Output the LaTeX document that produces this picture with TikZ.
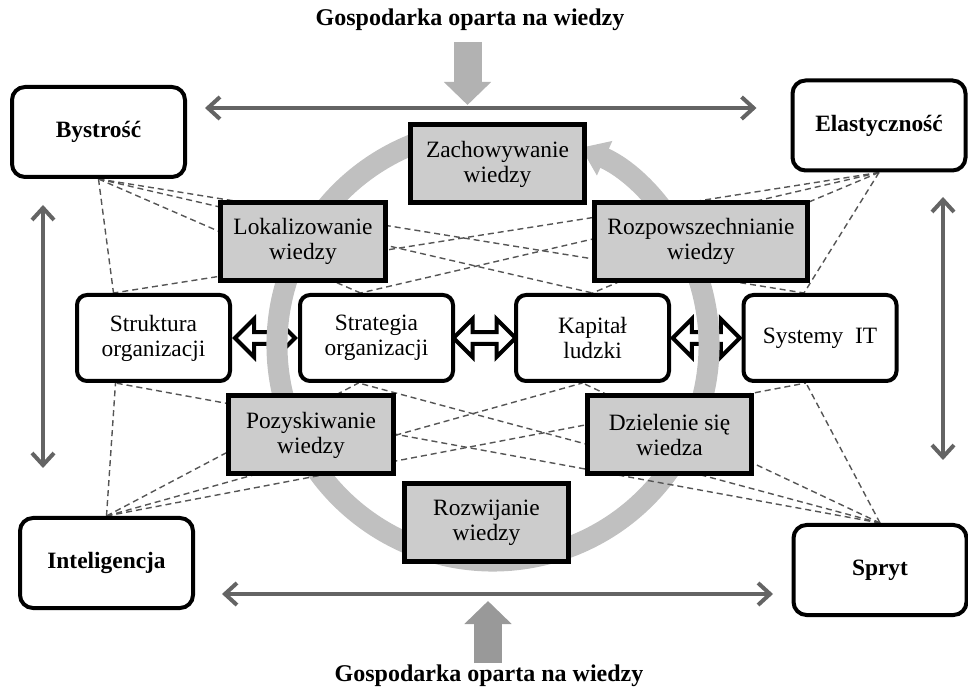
\documentclass[tikz,border=0pt]{standalone}
\usepackage{fontspec}
\setmainfont{Liberation Serif}
\usepackage{tikz}
\usetikzlibrary{arrows.meta, positioning, shapes.arrows, calc, backgrounds}
\usepackage{xcolor}
\definecolor{linkgray}{RGB}{85,85,85}
\definecolor{duogray}{RGB}{100,100,100}
\definecolor{ringgray}{RGB}{192,192,192}
\definecolor{boxgray}{RGB}{204,204,204}
\tikzset{
    % corner qualities
    cornerbox/.style={rectangle, rounded corners=6.5pt, draw=black, fill=white, line width=2pt,
                minimum width=86.5pt, minimum height=45pt, align=center,
                font=\fontsize{11.7}{13}\selectfont\bfseries},
    % organisation elements
    orgbox/.style={rectangle, rounded corners=5pt, draw=black, fill=white, line width=2pt,
                minimum width=76.5pt, minimum height=43pt, align=center,
                font=\fontsize{11.7}{12.5}\selectfont},
    % knowledge processes
    knowbox/.style={rectangle, draw=black, fill=boxgray, line width=2.5pt,
                minimum height=39pt, align=center,
                font=\fontsize{11.7}{12.5}\selectfont},
    headline/.style={font=\fontsize{12}{14}\selectfont\bfseries},
    dblarrow/.style={double arrow, draw=black, fill=white, line width=2pt, inner sep=0pt,
                minimum width=19pt, double arrow head extend=2.2pt},
    duo/.style={{Straight Barb[length=6pt,width=11pt]}-{Straight Barb[length=6pt,width=11pt]},
                line width=2pt, duogray},
    inflow/.style={-{Triangle[width=23pt,length=11.5pt]}, line width=14pt, #1},
    cyclearrow/.style={-{Triangle[width=18pt,length=13pt]}, line width=10.5pt, ringgray},
    link/.style={dash pattern=on 3pt off 2pt, line width=0.7pt, linkgray},
}
\begin{document}
\begin{tikzpicture}[x=0.5pt,y=0.5pt]
\useasboundingbox (0,0) rectangle (968,-688);
% corners
\node[cornerbox] (bys)   at (98.5,-132)  {Bystrość};
\node[cornerbox] (ela)   at (879,-125.5) {Elastyczność};
\node[cornerbox] (intel) at (106.5,-563) {Inteligencja};
\node[cornerbox] (spryt) at (880,-570)   {Spryt};
% middle row
\node[orgbox] (struk) at (153.5,-338) {Struktura\\organizacji};
\node[orgbox] (strat) at (376.5,-338) {Strategia\\organizacji};
\node[orgbox] (kap)   at (592.5,-338) {Kapitał\\ludzki};
\node[orgbox] (sys)   at (820,-338)   {Systemy\ \ IT};
% knowledge cycle
\node[knowbox, minimum width=87pt]    (zach)  at (497.5,-164) {Zachowywanie\\wiedzy};
\node[knowbox, minimum width=82.5pt]  (lok)   at (303,-241.5) {Lokalizowanie\\wiedzy};
\node[knowbox, minimum width=106.5pt] (rozp)  at (701,-241.5) {Rozpowszechnianie\\wiedzy};
\node[knowbox, minimum width=82.5pt]  (pozy)  at (311,-435)   {Pozyskiwanie\\wiedzy};
\node[knowbox, minimum width=82pt]    (dziel) at (669.5,-435) {Dzielenie się\\wiedza};
\node[knowbox, minimum width=82pt]    (rozw)  at (486.5,-523) {Rozwijanie\\wiedzy};
% economy
\node[headline] (gtop) at (470,-20)  {Gospodarka oparta na wiedzy};
\node[headline] (gbot) at (489,-676) {Gospodarka oparta na wiedzy};
\draw[inflow=gray!60] ([xshift=-1.25pt,yshift=-2pt]gtop.south) -- ++(0,-63);
\draw[inflow=gray!80] ([xshift=-0.5pt,yshift=-2.5pt]gbot.north) -- ++(0,62);
% outer links
\draw[duo] ([xshift=9pt,yshift=12pt]bys.east) -- ([xshift=-17pt,yshift=8.75pt]ela.west);
\draw[duo] ([xshift=13.5pt,yshift=-15.5pt]intel.east) -- ([xshift=-9.25pt,yshift=-12pt]spryt.west);
\draw[duo] ([xshift=-27.75pt,yshift=-13pt]bys.south) -- ([xshift=-31.75pt,yshift=24pt]intel.north);
\draw[duo] ([xshift=32pt,yshift=-12.25pt]ela.south) -- ([xshift=31.5pt,yshift=31.5pt]spryt.north);
\coordinate (strukN) at ([xshift=-20pt]struk.north);
\coordinate (stratN) at ([xshift=-8pt]strat.north);
\coordinate (kapN)   at (kap.north);
\coordinate (sysN)   at ([xshift=-8pt]sys.north);
\coordinate (strukS) at ([xshift=-19pt]struk.south);
\coordinate (stratS) at ([xshift=-9pt]strat.south);
\coordinate (kapS)   at ([xshift=-5pt]kap.south);
\coordinate (sysS)   at ([xshift=-7pt]sys.south);
\begin{pgfonlayer}{background}
\node[dblarrow, minimum height=30pt]   (a1) at ($(struk.east)!0.5!(strat.west)$) {};
\node[dblarrow, minimum height=31pt]   (a2) at ($(strat.east)!0.5!(kap.west)$) {};
\node[dblarrow, minimum height=33.5pt] (a3) at ($(kap.east)!0.5!(sys.west)$) {};
\draw[cyclearrow] (493,-345) ++(105:216) arc[start angle=105, end angle=426, radius=216];
\foreach \t in {strukN,stratN,kapN,sysN} {
  \draw[link] (bys.south) -- (\t);
  \draw[link] (ela.south) -- (\t);
}
\foreach \t in {strukS,stratS,kapS,sysS} {
  \draw[link] (intel.north) -- (\t);
  \draw[link] (spryt.north) -- (\t);
}
\end{pgfonlayer}
\end{tikzpicture}
\end{document}
